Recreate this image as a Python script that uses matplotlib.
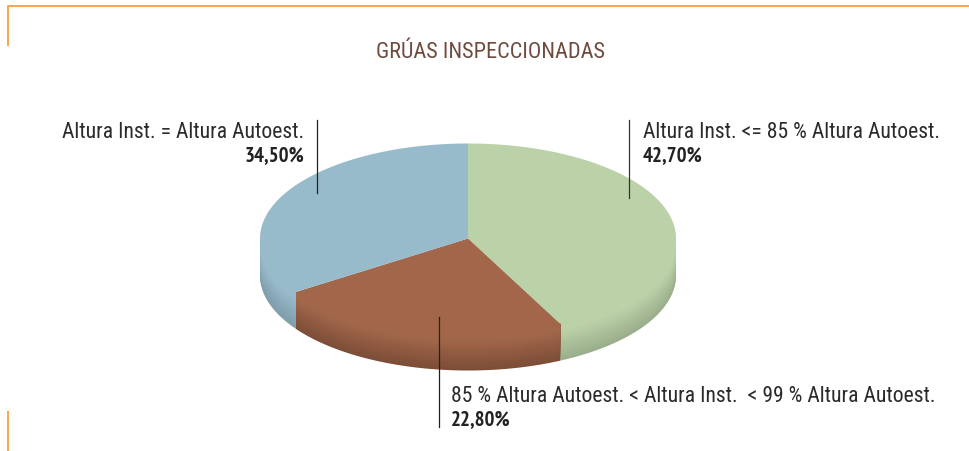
import numpy as np
from matplotlib import pyplot as plt
from matplotlib import font_manager
from matplotlib.colors import to_rgb

# data
categories = ["Altura Inst. <= 85 % Altura Autoest.",
              "85 % Altura Autoest. < Altura Inst.  < 99 % Altura Autoest.",
              "Altura Inst. = Altura Autoest."]
values = [42.70, 22.80, 34.50]
value_labels = ["42,70%", "22,80%", "34,50%"]
title = "GRÚAS INSPECCIONADAS"

# styles
top_colors = ["#BBD2A8", "#A2674A", "#98BBCB"]
low_colors = ["#9BAE8C", "#7C4D37", "#7F9DAB"]
orange = "#F7A54A"

# pie geometry in pixels
cx, cy = 468, 239.5
rx, ry = 208, 95
depth = 37

# the reference uses a condensed sans
names = {f.name for f in font_manager.fontManager.ttflist}
plain_font = "Roboto Condensed" if "Roboto Condensed" in names else "Liberation Sans"
bold_font = "PT Sans Narrow" if "PT Sans Narrow" in names else "Liberation Sans"


def rim(a0, a1, dy=0.0):
    t = np.radians(np.linspace(a0, a1, 300))
    return cx + rx * np.sin(t), cy - ry * np.cos(t) + dy


def draw_side(a0, a1, top, low):
    # only the front half of the pie shows a side
    a0 = max(a0, 90)
    a1 = min(a1, 270)
    if a1 <= a0:
        return
    # darkest first, each lighter band painted over the one below
    steps = 37
    x0, y0 = rim(a0, a1)
    for i in range(steps, 0, -1):
        f = i / steps
        k = max(0, (f - 0.2) / 0.8)
        col = np.array(to_rgb(top)) * (1 - k) + np.array(to_rgb(low)) * k
        x1, y1 = rim(a0, a1, depth * f)
        ax.fill(np.r_[x0, x1[::-1]], np.r_[y0, y1[::-1]], color=col, lw=0)


def draw_pie():
    edges = np.r_[0, np.cumsum(values)] / sum(values) * 360
    for i in range(len(values)):
        draw_side(edges[i], edges[i + 1], top_colors[i], low_colors[i])
    for i in range(len(values)):
        x, y = rim(edges[i], edges[i + 1])
        ax.fill(np.r_[cx, x], np.r_[cy, y], color=top_colors[i], lw=0)


def label(x, y, name, value, ha):
    ax.text(x, y, name, color="#2b2b2b", family=plain_font, fontsize=15.6, ha=ha, va="center")
    ax.text(x, y + 23, value, color="#222222", family=bold_font, fontweight="bold",
            fontsize=15, ha=ha, va="center")


fig = plt.figure(figsize=(9.70, 4.52), dpi=100)
ax = fig.add_axes([0, 0, 1, 1])
ax.set_xlim(0, 970)
ax.set_ylim(452, 0)
ax.axis("off")

draw_pie()

# frame pieces
ax.plot([8, 8, 970], [47, 6.5, 6.5], color=orange, lw=1.4, solid_capstyle="butt")
ax.plot([8, 8], [412, 452], color=orange, lw=1.4, solid_capstyle="butt")

ax.text(491, 53, title, color="#6E4B3E", family=plain_font, fontsize=16, ha="center", va="center")

# leader lines
ax.plot([629, 629], [121, 199], color="#333333", lw=0.9)
ax.plot([439, 439], [318, 428], color="#222222", lw=0.9)
ax.plot([317, 317], [121, 194], color="#222222", lw=0.9)

label(643, 133, categories[0], value_labels[0], "left")
label(451, 397, categories[1], value_labels[1], "left")
label(304, 133, categories[2], value_labels[2], "right")

plt.savefig("out.png", dpi=100)
